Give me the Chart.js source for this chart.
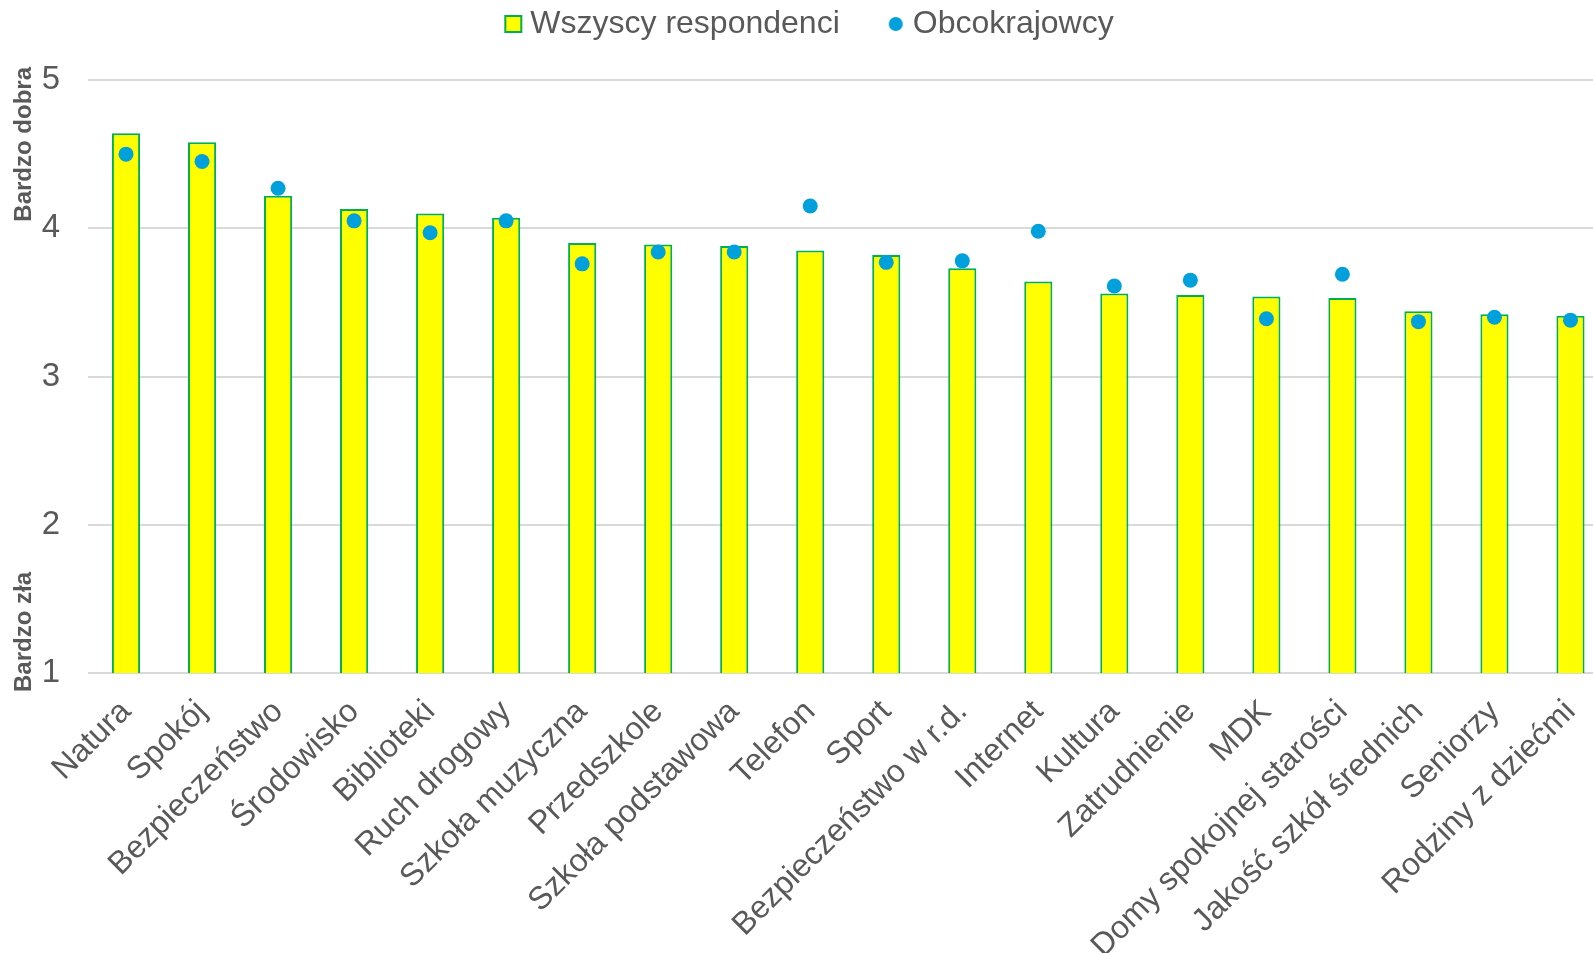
<!DOCTYPE html>
<html>
<head>
<meta charset="utf-8">
<script src="https://cdn.jsdelivr.net/npm/chart.js@4"></script>
<style>
    html, body { margin: 0; padding: 0; background: #fff; overflow: hidden; }
    #wykres { display: block; }
</style>
</head>
<body>
<canvas id="wykres" width="1616" height="953"></canvas>
<script>
const kategorie = ['Natura', 'Spokój', 'Bezpieczeństwo', 'Środowisko', 'Biblioteki', 'Ruch drogowy',
    'Szkoła muzyczna', 'Przedszkole', 'Szkoła podstawowa', 'Telefon', 'Sport', 'Bezpieczeństwo w r.d.',
    'Internet', 'Kultura', 'Zatrudnienie', 'MDK', 'Domy spokojnej starości', 'Jakość szkół średnich',
    'Seniorzy', 'Rodziny z dziećmi'];
const wszyscy = [4.64, 4.58, 4.22, 4.13, 4.10, 4.07, 3.90, 3.89, 3.88, 3.85, 3.82, 3.73,
    3.64, 3.56, 3.55, 3.54, 3.53, 3.44, 3.42, 3.41];
const obcokrajowcy = [4.50, 4.45, 4.27, 4.05, 3.97, 4.05, 3.76, 3.84, 3.84, 4.15, 3.77, 3.78,
    3.98, 3.61, 3.65, 3.39, 3.69, 3.37, 3.40, 3.38];
const osY = [1, 2, 3, 4, 5];

const szary = '#595959';
const czcionka = '"Liberation Sans", Arial, sans-serif';

// mala kropka do legendy (mniejsza niz domyslny circle)
const kropka = document.createElement('canvas');
kropka.width = 16;
kropka.height = 16;
const kctx = kropka.getContext('2d');
kctx.fillStyle = '#00A0DC';
kctx.beginPath();
kctx.arc(8, 8, 7, 0, Math.PI * 2);
kctx.fill();

// stala wysokosc legendy, zeby odstep do wykresu byl jak w oryginale
const wysokoscLegendy = {
    id: 'wysokoscLegendy',
    beforeUpdate(chart) {
        const lg = chart.legend;
        if (lg && !lg._poprawiona) {
            const fit = lg.fit;
            lg.fit = function () {
                fit.call(this);
                this.height = 127;
            };
            lg._poprawiona = true;
        }
    },
    afterLayout(chart) {
        // lekkie przesuniecie legendy w prawo
        chart.legend.left += 6;
        chart.legend.right += 6;
    }
};

const opisyOsi = {
    id: 'opisyOsi',
    afterDraw(chart) {
        const y = chart.scales.y;
        const ctx = chart.ctx;
        ctx.save();
        ctx.fillStyle = szary;
        ctx.font = 'bold 24px ' + czcionka;
        ctx.textBaseline = 'middle';
        ctx.translate(24, y.getPixelForValue(5) - 13);
        ctx.rotate(-Math.PI / 2);
        ctx.textAlign = 'right';
        ctx.fillText('Bardzo dobra', 0, 0);
        ctx.restore();

        ctx.save();
        ctx.fillStyle = szary;
        ctx.font = 'bold 24px ' + czcionka;
        ctx.textBaseline = 'middle';
        ctx.translate(24, y.getPixelForValue(1) + 19);
        ctx.rotate(-Math.PI / 2);
        ctx.textAlign = 'left';
        ctx.fillText('Bardzo zła', 0, 0);
        ctx.restore();
    }
};

new Chart(document.getElementById('wykres'), {
    type: 'bar',
    data: {
        labels: kategorie,
        datasets: [
            {
                type: 'line',
                label: 'Obcokrajowcy',
                data: obcokrajowcy,
                showLine: false,
                pointRadius: 7.5,
                pointHoverRadius: 7.5,
                pointBackgroundColor: '#00A0DC',
                pointBorderWidth: 0,
                borderColor: '#00A0DC',
                order: 0
            },
            {
                label: 'Wszyscy respondenci',
                data: wszyscy,
                backgroundColor: '#FFFF00',
                borderColor: '#00B050',
                borderWidth: 2,
                categoryPercentage: 1,
                barPercentage: 0.37,
                order: 1
            }
        ]
    },
    options: {
        responsive: false,
        animation: false,
        layout: { padding: { top: -47, right: 2, left: 0, bottom: 0 } },
        plugins: {
            legend: {
                position: 'top',
                reverse: true,
                labels: {
                    color: szary,
                    font: { family: czcionka, size: 32 },
                    usePointStyle: true,
                    boxWidth: 2,
                    boxHeight: 16,
                    padding: 55,
                    generateLabels(chart) {
                        return chart.data.datasets.map((ds, i) => ({
                            text: ds.label,
                            fillStyle: i === 1 ? '#FFFF00' : '#00A0DC',
                            strokeStyle: i === 1 ? '#00B050' : '#00A0DC',
                            lineWidth: i === 1 ? 2 : 0,
                            pointStyle: i === 1 ? 'rect' : kropka,
                            fontColor: szary,
                            datasetIndex: i,
                            hidden: false
                        }));
                    }
                }
            },
            tooltip: { enabled: false }
        },
        scales: {
            x: {
                grid: { display: false },
                border: { display: false },
                ticks: {
                    color: szary,
                    font: { family: czcionka, size: 32 },
                    minRotation: 45,
                    maxRotation: 45,
                    autoSkip: false,
                    padding: 12
                },
                afterFit(s) { s.height = 280; }
            },
            y: {
                min: 1,
                max: 5,
                afterBuildTicks(s) { s.ticks = osY.map(v => ({ value: v })); },
                grid: { color: '#D9D9D9', lineWidth: 2, drawTicks: false },
                border: { display: false },
                ticks: {
                    color: szary,
                    font: { family: czcionka, size: 33 },
                    padding: 28
                },
                afterFit(s) { s.width = 88; }
            }
        }
    },
    plugins: [opisyOsi, wysokoscLegendy]
});
</script>
</body>
</html>
